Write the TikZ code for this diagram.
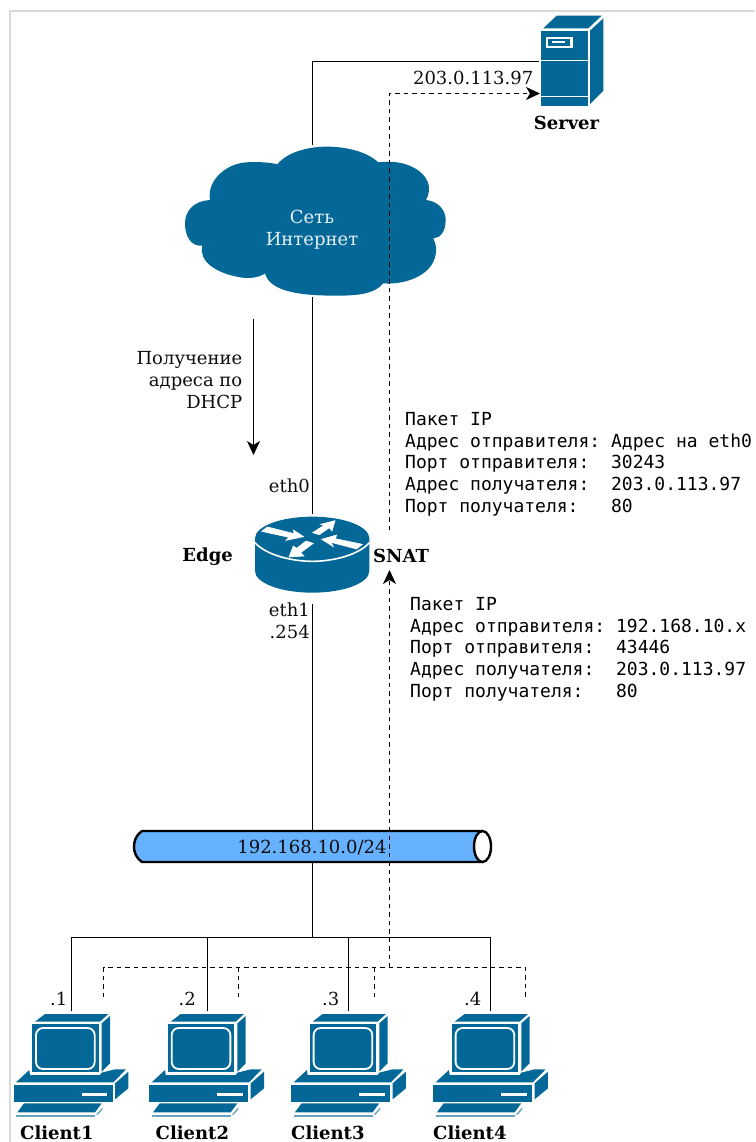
\documentclass[tikz,border=0pt]{standalone}
\usepackage{fontspec}
\setmainfont{DejaVu Serif}
\setmonofont{DejaVu Sans Mono}
\usetikzlibrary{arrows.meta}
\definecolor{ciscoblue}{HTML}{036897}
\definecolor{pipeblue}{HTML}{66B2FF}
\definecolor{framegray}{HTML}{D9D9D9}
\tikzset{
  zoomed/.style={x=0.33333pt,y=-0.33333pt},
  blue shape/.style={fill=ciscoblue,draw=none},
  white shape/.style={fill=white,draw=none},
  white arrow/.style={fill=white,draw=white,line width=0.6pt},
  link/.style={draw=black,line width=1.2pt},
  traffic/.style={draw=black,line width=1.2pt,dash pattern=on 4.5pt off 4pt},
  tip/.style={-{Stealth[length=14pt,width=13pt,inset=4pt]}},
  lbl/.style={font=\fontsize{18}{21.7}\selectfont,inner sep=0pt,text=black!95},
  title/.style={font=\fontsize{18}{21.7}\selectfont\bfseries,inner sep=0pt,text=black},
  packet/.style={font=\fontsize{18}{21.7}\selectfont\ttfamily,inner sep=0pt,align=left,anchor=north west,text=black},
  clienticon/.pic={
    \begin{scope}[zoomed]
      \fill[blue shape] (105,125)--(135,102)--(325,102)--(300,125)--cycle;
      \fill[blue shape] (305,130)--(330,108)--(330,250)--(305,275)--cycle;
      \fill[blue shape] (96,133) rectangle (296,277);
      \draw[white,line width=1.8pt,rounded corners=7pt] (108,144) rectangle (284,267);
      \fill[blue shape] (48,307)--(88,270)--(90,285)--(300,285)--(305,278)--(345,268)--(378,268)--(340,307)--cycle;
      \fill[blue shape] (41,315) rectangle (338,365);
      \fill[white shape] (245,338) rectangle (322,347);
      \fill[blue shape] (345,310)--(385,275)--(385,325)--(345,358)--cycle;
      \fill[blue shape] (52,397)--(72,370)--(305,370)--(285,397)--cycle;
      \fill[ciscoblue!60] (48,405) rectangle (285,410);
      \fill[ciscoblue!60] (288,404)--(308,382)--(308,388)--(294,404)--cycle;
    \end{scope}
  }
}
\begin{document}
\begin{tikzpicture}[x=1pt,y=-1pt]
\useasboundingbox (0,0) rectangle (755,1142);
% frame
\draw[framegray,line width=2pt] (9.5,1142) -- (9.5,11.5) -- (755,11.5);

% anchors
\coordinate (cloudN) at (312.5,145);
\coordinate (cloudS) at (312.5,297);
\coordinate (routerN) at (312.5,514);
\coordinate (routerS) at (312.5,604);
\coordinate (pipeN) at (312.5,831);
\coordinate (pipeS) at (312.5,862);
\coordinate (serverL) at (539,61.5);
\coordinate (serverA) at (540,93.5);
\coordinate (corner) at (312.5,61.5);
\coordinate (bus) at (312.5,937.5);
\coordinate (c1) at (71.5,1011);
\coordinate (c2) at (207.5,1011);
\coordinate (c3) at (348.5,1011);
\coordinate (c4) at (490.5,1011);
\coordinate (d1) at (103.5,997);
\coordinate (d2) at (238.5,997);
\coordinate (d3) at (374.5,997);
\coordinate (d4) at (525.5,997);
\coordinate (dbus) at (389.5,967.5);
\coordinate (snatIn) at (389.5,570);
\coordinate (snatOut) at (389.5,530);
\coordinate (dhcpA) at (253.5,319);
\coordinate (dhcpB) at (253.5,455);

% solid connectors
\draw[link] (cloudN) -- (corner) -- (serverL);
\draw[link] (cloudS) -- (routerN);
\draw[link] (routerS) -- (pipeN);
\draw[link] (pipeS) -- (bus);
\draw[link] (c1) |- (bus);
\draw[link] (c4) |- (bus);
\draw[link] (c2) -- (c2 |- bus);
\draw[link] (c3) -- (c3 |- bus);

% server
\begin{scope}[shift={(500,0)},zoomed]
  \fill[blue shape] (130,85)--(170,47)--(305,47)--(265,85)--cycle;
  \fill[blue shape] (270,92)--(310,55)--(310,272)--(270,312)--cycle;
  \fill[blue shape] (124,92) rectangle (264,318);
  \fill[white shape] (124,179) rectangle (264,184);
  \fill[white shape] (124,288) rectangle (264,292);
  \fill[white shape] (137,110) rectangle (218,145);
  \fill[blue shape] (145,117) rectangle (210,137);
  \fill[white shape] (157,123) rectangle (195,130);
\end{scope}
\node[inner sep=0pt,minimum width=63pt,minimum height=92pt] (server) at (572,61) {};

% cloud
\begin{scope}[shift={(170,130)},zoomed]
  \fill[blue shape] (322,103)
    .. controls (350,68) and (410,50) .. (470,50)
    .. controls (530,50) and (590,65) .. (625,97)
    .. controls (665,92) and (705,97) .. (735,115)
    .. controls (770,135) and (790,170) .. (768,210)
    .. controls (805,214) and (827,240) .. (827,270)
    .. controls (827,305) and (810,325) .. (790,325)
    .. controls (800,345) and (802,370) .. (790,395)
    .. controls (770,440) and (700,465) .. (640,460)
    .. controls (615,490) and (570,497) .. (500,497)
    .. controls (410,497) and (300,490) .. (285,430)
    .. controls (265,445) and (230,447) .. (200,440)
    .. controls (140,428) and (85,395) .. (97,347)
    .. controls (60,350) and (45,315) .. (45,280)
    .. controls (45,240) and (75,212) .. (120,210)
    .. controls (110,150) and (170,100) .. (230,97)
    .. controls (265,95) and (300,97) .. (322,103)
    -- cycle;
\end{scope}
\node[lbl,text=white!90!ciscoblue,align=center] (cloud) at (312,229.5) {Сеть\\Интернет};

% router
\begin{scope}[shift={(170,490)},zoomed]
  \fill[blue shape] (255,145) -- (255,243)
     .. controls (255,279) and (332,308) .. (427,308)
     .. controls (522,308) and (598,279) .. (598,243)
     -- (598,145)
     .. controls (598,109) and (522,80) .. (427,80)
     .. controls (332,80) and (255,109) .. (255,145) -- cycle;
  \draw[white,line width=1.6pt] (255,158) .. controls (290,197) and (370,214) .. (427,214) .. controls (484,214) and (564,197) .. (598,158);
  \path[white arrow] (275,124)--(292,111)--(372,131)--(370,120)--(401,140)--(348,151)--(357,142)--cycle;
  \path[white arrow] (428,128)--(462,106)--(452,103)--(495,92)--(486,123)--(478,113)--(448,134)--cycle;
  \path[white arrow] (577,163)--(560,177)--(483,157)--(490,170)--(455,148)--(500,135)--(496,146)--cycle;
  \path[white arrow] (430,160)--(408,153)--(380,175)--(370,168)--(357,201)--(402,198)--(392,188)--cycle;
\end{scope}
\node[inner sep=0pt,minimum width=115pt,minimum height=78pt] (router) at (312,555) {};

% pipe
\path[fill=pipeblue,draw=black,line width=2.4pt] (482.5,831) -- (142,831) .. controls (136,835) and (134,841) .. (134,846.5) .. controls (134,852) and (136,858) .. (142,862) -- (482.5,862);
\draw[fill=white,draw=black,line width=2.4pt] (482.5,846.5) ellipse[x radius=8.5,y radius=15.5];
\node[lbl] (subnet) at (312,847.5) {192.168.10.0/24};

% clients
\pic at (0,980) {clienticon};
\pic at (135.7,980) {clienticon};
\pic at (277.6,980) {clienticon};
\pic at (419.6,980) {clienticon};

% traffic
\draw[traffic] (d1) |- (d4 |- dbus) -- (d4);
\draw[traffic] (d2) -- (d2 |- dbus);
\draw[traffic] (d3) -- (d3 |- dbus);
\draw[traffic,tip] (dbus) -- (snatIn);
\draw[traffic,tip] (snatOut) |- (serverA);

% DHCP arrow
\draw[link,tip] (dhcpA) -- (dhcpB);

% labels
\node[lbl,anchor=east] (ip) at (533.5,78) {203.0.113.97};
\node[title] (serverT) at (566.5,123) {Server};
\node[lbl,align=right,anchor=east] (dhcpT) at (242.5,380) {Получение\\адреса по\\DHCP};
\node[lbl,anchor=east] (eth0) at (310,485.5) {eth0};
\node[title,anchor=east] (edgeT) at (233,557) {Edge};
\node[title,anchor=west] (snatT) at (373,556) {SNAT};
\node[lbl,anchor=east,align=right] (eth1) at (310,621) {eth1\\.254};
\node[packet] (pktA) at (405,412) {Пакет IP\\Адрес отправителя: Адрес на eth0\\Порт отправителя:\ \ 30243\\Адрес получателя:\ \ 203.0.113.97\\Порт получателя:\ \ \ 80};
\node[packet] (pktB) at (410,597) {Пакет IP\\Адрес отправителя: 192.168.10.x\\Порт отправителя:\ \ 43446\\Адрес получателя:\ \ 203.0.113.97\\Порт получателя:\ \ \ 80};
\node[lbl,anchor=east] (n1) at (67.5,998.5) {.1};
\node[lbl,anchor=east] (n2) at (196,998.5) {.2};
\node[lbl,anchor=east] (n3) at (339.5,998.5) {.3};
\node[lbl,anchor=east] (n4) at (481.5,998.5) {.4};
\node[title,anchor=west] (t1) at (20,1133) {Client1};
\node[title,anchor=west] (t2) at (155.5,1133) {Client2};
\node[title,anchor=west] (t3) at (291,1133) {Client3};
\node[title,anchor=west] (t4) at (433,1133) {Client4};
\end{tikzpicture}
\end{document}
